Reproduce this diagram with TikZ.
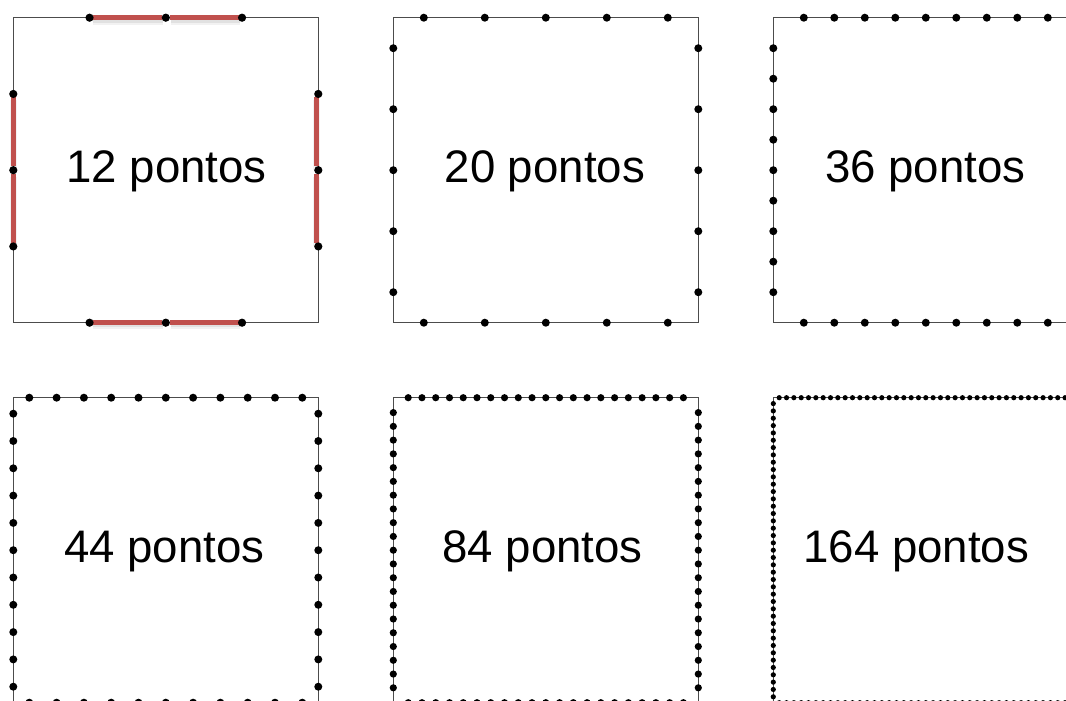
\documentclass[tikz,border=0pt]{standalone}
\usepackage{fontspec}
\setmainfont{Liberation Sans}
\definecolor{redc}{HTML}{C0504D}
\newcommand{\sqframe}[2]{%
  \draw[sqline] (#1,#2) rectangle ++(305,305);}
\newcommand{\sqdots}[5]{%
  \pgfmathsetmacro\myoff{(305-(#3-1)*#4)/2}%
  \foreach \k in {1,...,#3}{%
    \pgfmathsetmacro\mypos{\myoff+(\k-1)*#4}%
    \fill[dotc] (#1+\mypos,#2) circle[radius=#5pt];
    \fill[dotc] (#1+\mypos,#2+305) circle[radius=#5pt];
    \fill[dotc] (#1,#2+\mypos) circle[radius=#5pt];
    \fill[dotc] (#1+305,#2+\mypos) circle[radius=#5pt];
  }}
\tikzset{
  sqline/.style={draw=black!70, line width=1.3pt},
  dotc/.style={fill=black},
  redseg/.style={draw=redc, line width=4.8pt},
  redshadowA/.style={draw=black, opacity=0.05, line width=7pt, shift={(0.5,3.5)}},
  redshadowB/.style={draw=black, opacity=0.07, line width=4pt, shift={(0.5,3)}},
  lbl/.style={font=\fontsize{45.6}{50}\selectfont, inner sep=0pt, anchor=base}
}
\begin{document}
\begin{tikzpicture}[x=1pt,y=-1pt]
\useasboundingbox (0,0) rectangle (1066,701);
\clip (0,0) rectangle (1066,701);
% square 1 (12 points) with red segments
\sqframe{13.3}{17.7}
\foreach \s in {redshadowA,redshadowB} {
  \foreach \a/\b in {92.5/162,170/239} {
    \draw[\s] (\a,17.7) -- (\b,17.7);
    \draw[\s] (\a,322.3) -- (\b,322.3);
  }
  \foreach \a/\b in {96.5/166,173.5/242.5} {
    \draw[\s] (13.3,\a) -- (13.3,\b);
    \draw[\s] (316.3,\a) -- (316.3,\b);
  }
}
\foreach \a/\b in {92.5/162,170/239} {
  \draw[redseg] (\a,17.7) -- (\b,17.7);
  \draw[redseg] (\a,322.3) -- (\b,322.3);
}
\foreach \a/\b in {96.5/166,173.5/242.5} {
  \draw[redseg] (13.3,\a) -- (13.3,\b);
  \draw[redseg] (316.3,\a) -- (316.3,\b);
}
\sqdots{13.3}{17.7}{3}{76.25}{4.1}
% square 2 (20 points)
\sqframe{393.3}{17.7}
\sqdots{393.3}{17.7}{5}{61}{4.0}
% square 3 (36 points)
\sqframe{773.3}{17.7}
\sqdots{773.3}{17.7}{9}{30.5}{4.0}
% square 4 (44 points)
\sqframe{13.3}{397.7}
\sqdots{13.3}{397.7}{11}{27.3}{4.0}
% square 5 (84 points)
\sqframe{393.3}{397.7}
\sqdots{393.3}{397.7}{21}{13.76}{3.6}
% square 6 (164 points)
\sqframe{773.3}{397.7}
\sqdots{773.3}{397.7}{41}{7.33}{2.6}
% labels
\node[lbl] (t1) at (166.7,182.7) {12 pontos};
\node[lbl] (t2) at (544.8,182.7) {20 pontos};
\node[lbl] (t3) at (925.3,182.7) {36 pontos};
\node[lbl] (t4) at (164.2,562.7) {44 pontos};
\node[lbl] (t5) at (542.5,562.7) {84 pontos};
\node[lbl] (t6) at (916.3,562.7) {164 pontos};
\end{tikzpicture}
\end{document}
